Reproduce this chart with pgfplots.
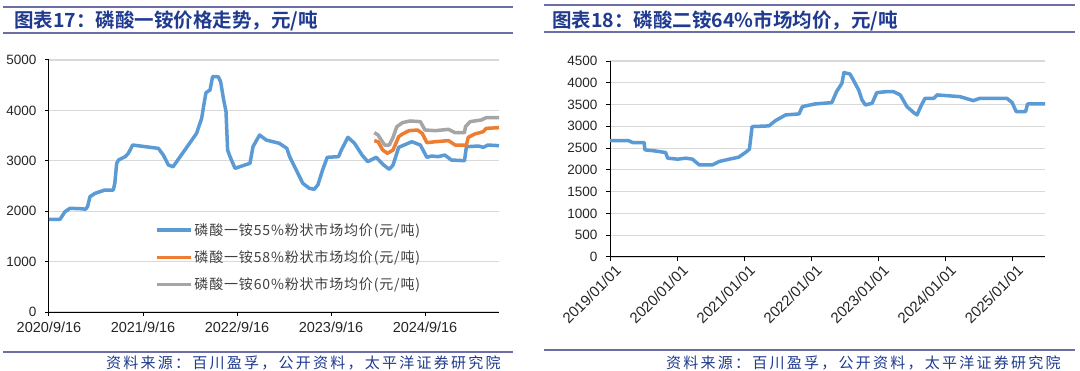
\documentclass[border=0pt]{standalone}
\usepackage{fontspec}
\usepackage{pgfplots}
\pgfplotsset{compat=1.18}
\setmainfont{Liberation Sans}
\newfontfamily\cjk{Noto Sans CJK SC}
\newfontfamily\cjkleg[LetterSpace=6]{Noto Sans CJK SC}
\newfontfamily\cjkbold{Noto Sans CJK SC Bold}
\newfontfamily\cjksrc[LetterSpace=15]{Noto Sans CJK SC}
\definecolor{cblue}{HTML}{5B9BD5}
\definecolor{corange}{HTML}{ED7D31}
\definecolor{cgray}{HTML}{A5A5A5}
\definecolor{rulec}{HTML}{6E6EA6}
\definecolor{navy}{HTML}{1F3A8F}
\definecolor{gridc}{HTML}{D9D9D9}
\pgfplotsset{
  common/.style={
    scale only axis,
    anchor=south west,
    axis x line*=bottom,
    axis y line*=left,
    axis line style={line width=1pt,black},
    ymajorgrids,
    grid style={gridc,line width=1.2pt},
    tick align=outside,
    major tick length=4pt,
    tick style={black,line width=1pt},
    xtick pos=bottom, ytick pos=left,
    tick label style={font=\fontsize{13.5}{16}\selectfont, black!85},
    /pgf/number format/assume math mode=true,
    /pgf/number format/1000 sep={},
    every axis plot/.append style={line width=3.5pt, line join=round, no markers},
  }
}
\begin{document}
\begin{tikzpicture}[x=1pt,y=1pt]
\fill[white] (0,0) rectangle (1080,370);
\useasboundingbox (0,0) rectangle (1080,370);
% Title bars
\draw[rulec,line width=2pt] (3,363.3) -- (513,363.3);
\draw[rulec,line width=2pt] (3,337) -- (513,337);
\node[anchor=west,inner sep=0,text=navy,font=\cjkbold\fontsize{19.5}{22}\selectfont] at (14,349) {图表17：磷酸一铵价格走势，元/吨};
\draw[rulec,line width=2pt] (544,364.7) -- (1075,364.7);
\draw[rulec,line width=2pt] (544,338) -- (1075,338);
\node[anchor=west,inner sep=0,text=navy,font=\cjkbold\fontsize{19.5}{22}\selectfont] at (552,349) {图表18：磷酸二铵64\%市场均价，元/吨};
% Source bars
\draw[rulec,line width=1.8pt] (3,18.3) -- (513,18.3);
\draw[rulec,line width=1.8pt] (544,20) -- (1075,20);
\node[anchor=west,inner sep=0,text=navy,font=\cjksrc\fontsize{15}{18}\selectfont] at (106,7) {资料来源：百川盈孚，公开资料，太平洋证券研究院};
\node[anchor=west,inner sep=0,text=navy,font=\cjksrc\fontsize{15}{18}\selectfont] at (666,7) {资料来源：百川盈孚，公开资料，太平洋证券研究院};

% Left chart
\begin{axis}[common,
  at={(49pt,58pt)}, width=450pt, height=252pt,
  xmin=0, xmax=4.787, ymin=0, ymax=5000,
  ytick={0,1000,2000,3000,4000,5000},
  xtick={0,1,2,3,4},
  xticklabels={2020/9/16,2021/9/16,2022/9/16,2023/9/16,2024/9/16},
  xticklabel style={font=\fontsize{14.5}{16}\selectfont, yshift=-2pt},
  yticklabel style={xshift=-5pt},
  legend style={at={(0.235,0.361)}, anchor=north west, draw=none, fill=none,
    font=\cjkleg\fontsize{14}{16}\selectfont, text=black!75, row sep=10pt, inner sep=0pt},
  legend cell align=left,
  legend image code/.code={\draw[#1] (0pt,0pt) -- (34pt,0pt);},
]
\addplot[cblue] coordinates {
(0,1839)(0.117,1839)(0.17,1990)(0.223,2057)(0.33,2050)(0.39,2040)(0.41,2090)(0.436,2288)(0.49,2355)(0.595,2420)(0.684,2420)(0.70,2553)(0.72,2950)(0.74,3016)(0.81,3081)(0.844,3148)(0.89,3313)(1.163,3247)(1.216,3115)(1.27,2916)(1.32,2883)(1.57,3545)(1.624,3843)(1.65,4141)(1.67,4351)(1.713,4405)(1.74,4669)(1.80,4669)(1.826,4569)(1.855,4240)(1.883,3975)(1.90,3214)(1.926,3081)(1.979,2850)(2.03,2883)(2.138,2950)(2.17,3280)(2.24,3512)(2.31,3413)(2.45,3347)(2.53,3247)(2.56,3082)(2.63,2817)(2.70,2553)(2.77,2454)(2.82,2434)(2.86,2520)(2.91,2817)(2.96,3069)(3.08,3082)(3.11,3214)(3.18,3466)(3.25,3347)(3.33,3115)(3.39,2983)(3.48,3069)(3.56,2916)(3.62,2831)(3.66,2916)(3.72,3267)(3.86,3379)(3.95,3313)(4.02,3069)(4.07,3095)(4.14,3082)(4.21,3115)(4.28,3016)(4.42,3002)(4.44,3280)(4.57,3293)(4.62,3267)(4.67,3313)(4.787,3300)
};
\addlegendentry{磷酸一铵55\%粉状市场均价(元/吨)}
\addplot[corange] coordinates {
(3.46,3400)(3.50,3379)(3.55,3214)(3.60,3148)(3.66,3214)(3.72,3479)(3.76,3532)(3.83,3598)(3.92,3611)(3.97,3545)(4.02,3360)(4.11,3379)(4.25,3400)(4.32,3313)(4.44,3313)(4.46,3466)(4.53,3532)(4.62,3578)(4.65,3644)(4.787,3657)
};
\addlegendentry{磷酸一铵58\%粉状市场均价(元/吨)}
\addplot[cgray] coordinates {
(3.46,3558)(3.50,3512)(3.57,3313)(3.62,3313)(3.66,3466)(3.70,3677)(3.76,3757)(3.84,3790)(3.95,3777)(4.00,3611)(4.11,3598)(4.25,3624)(4.32,3558)(4.42,3558)(4.43,3677)(4.48,3777)(4.60,3810)(4.65,3856)(4.787,3856)
};
\addlegendentry{磷酸一铵60\%粉状市场均价(元/吨)}
\end{axis}

% Right chart
\begin{axis}[common,
  at={(610pt,113pt)}, width=435pt, height=196pt,
  xmin=0, xmax=6.49, ymin=0, ymax=4500,
  ytick={0,500,1000,1500,2000,2500,3000,3500,4000,4500},
  xtick={0,1,2,3,4,5,6},
  xticklabels={2019/01/01,2020/01/01,2021/01/01,2022/01/01,2023/01/01,2024/01/01,2025/01/01},
  xticklabel style={font=\fontsize{15}{16}\selectfont, rotate=45, anchor=north east, inner sep=1pt, yshift=-4pt, xshift=2pt},
  yticklabel style={xshift=-5pt},
]
\addplot[cblue] coordinates {
(0,2674)(0.27,2674)(0.34,2628)(0.51,2628)(0.52,2460)(0.66,2437)(0.83,2399)(0.86,2269)(1.01,2246)(1.13,2269)(1.23,2246)(1.33,2116)(1.53,2116)(1.63,2193)(1.78,2246)(1.92,2292)(2.02,2399)(2.08,2475)(2.12,2995)(2.37,3010)(2.47,3132)(2.62,3262)(2.82,3285)(2.87,3453)(3.06,3514)(3.31,3545)(3.38,3797)(3.46,3988)(3.49,4233)(3.58,4202)(3.63,4064)(3.71,3835)(3.76,3606)(3.81,3491)(3.91,3530)(3.98,3774)(4.13,3797)(4.23,3797)(4.33,3721)(4.43,3453)(4.53,3316)(4.58,3262)(4.64,3469)(4.70,3644)(4.83,3644)(4.88,3721)(5.22,3682)(5.42,3591)(5.52,3644)(5.92,3644)(6.0,3545)(6.06,3339)(6.2,3339)(6.23,3514)(6.49,3514)
};
\end{axis}
\end{tikzpicture}
\end{document}
